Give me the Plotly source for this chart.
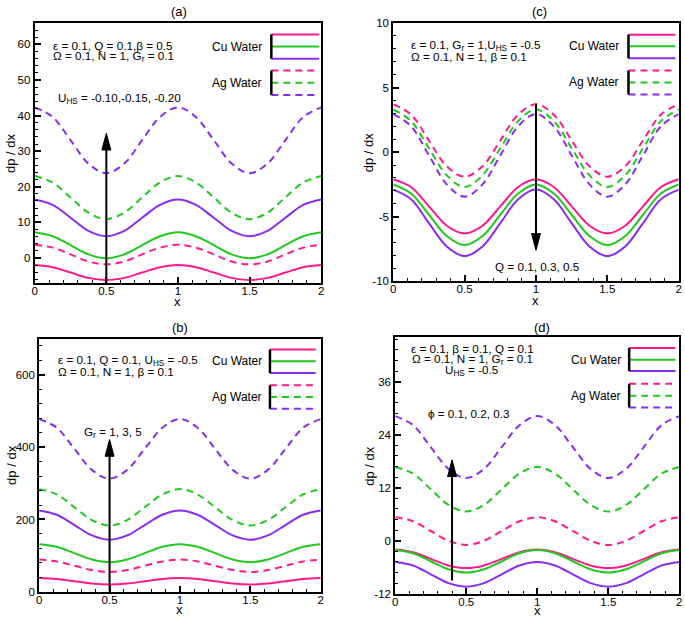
import plotly.graph_objects as go

W, H = 685, 622
FONT = "Liberation Sans, Arial, sans-serif"
PINK, GREEN, PURPLE = "#ff1a8c", "#22c81e", "#8a2cf0"
DASH = "7px,5px"

x_vals = [0, 0.125, 0.25, 0.375, 0.5, 0.625, 0.75, 0.875, 1,
          1.125, 1.25, 1.375, 1.5, 1.625, 1.75, 1.875, 2]

# ---------------- panel (a) ----------------
a_cu_pink   = [-2.0, -2.6, -4.1, -5.6, -6.2, -5.6, -4.1, -2.6, -2.0, -2.6, -4.1, -5.6, -6.2, -5.6, -4.1, -2.6, -2.0]
a_cu_green  = [7.2, 6.1, 3.6, 1.0, -0.1, 1.0, 3.6, 6.1, 7.2, 6.1, 3.6, 1.0, -0.1, 1.0, 3.6, 6.1, 7.2]
a_cu_purple = [16.4, 14.9, 11.3, 7.6, 6.1, 7.6, 11.3, 14.9, 16.4, 14.9, 11.3, 7.6, 6.1, 7.6, 11.3, 14.9, 16.4]
a_ag_pink   = [3.7, 2.9, 1.0, -1.0, -1.8, -1.0, 1.0, 2.9, 3.7, 2.9, 1.0, -1.0, -1.8, -1.0, 1.0, 2.9, 3.7]
a_ag_green  = [23.0, 21.2, 17.0, 12.7, 10.9, 12.7, 17.0, 21.2, 23.0, 21.2, 17.0, 12.7, 10.9, 12.7, 17.0, 21.2, 23.0]
a_ag_purple = [42.3, 39.6, 33.1, 26.5, 23.8, 26.5, 33.1, 39.6, 42.3, 39.6, 33.1, 26.5, 23.8, 26.5, 33.1, 39.6, 42.3]

# ---------------- panel (b) ----------------
b_cu_pink   = [38, 35.4, 29, 22.6, 20, 22.6, 29, 35.4, 38, 35.4, 29, 22.6, 20, 22.6, 29, 35.4, 38]
b_cu_green  = [131.5, 124.3, 106.8, 89.3, 82, 89.3, 106.8, 124.3, 131.5, 124.3, 106.8, 89.3, 82, 89.3, 106.8, 124.3, 131.5]
b_cu_purple = [225, 213.1, 184.5, 155.9, 144, 155.9, 184.5, 213.1, 225, 213.1, 184.5, 155.9, 144, 155.9, 184.5, 213.1, 225]
b_ag_pink   = [89, 84, 72, 60, 55, 60, 72, 84, 89, 84, 72, 60, 55, 60, 72, 84, 89]
b_ag_green  = [284, 269.3, 233.8, 198.3, 183.5, 198.3, 233.8, 269.3, 284, 269.3, 233.8, 198.3, 183.5, 198.3, 233.8, 269.3, 284]
b_ag_purple = [478, 453.8, 395.5, 337.2, 313, 337.2, 395.5, 453.8, 478, 453.8, 395.5, 337.2, 313, 337.2, 395.5, 453.8, 478]

# ---------------- panel (c) ----------------
c_cu_pink   = [-2.1, -2.7, -4.2, -5.7, -6.3, -5.7, -4.2, -2.7, -2.1, -2.7, -4.2, -5.7, -6.3, -5.7, -4.2, -2.7, -2.1]
c_cu_green  = [-2.5, -3.2, -4.85, -6.5, -7.2, -6.5, -4.85, -3.2, -2.5, -3.2, -4.85, -6.5, -7.2, -6.5, -4.85, -3.2, -2.5]
c_cu_purple = [-2.9, -3.65, -5.5, -7.3, -8.05, -7.3, -5.5, -3.65, -2.9, -3.65, -5.5, -7.3, -8.05, -7.3, -5.5, -3.65, -2.9]
c_ag_pink   = [3.7, 2.9, 0.9, -1.1, -1.9, -1.1, 0.9, 2.9, 3.7, 2.9, 0.9, -1.1, -1.9, -1.1, 0.9, 2.9, 3.7]
c_ag_green  = [3.3, 2.4, 0.3, -1.8, -2.7, -1.8, 0.3, 2.4, 3.3, 2.4, 0.3, -1.8, -2.7, -1.8, 0.3, 2.4, 3.3]
c_ag_purple = [2.95, 2.0, -0.25, -2.5, -3.45, -2.5, -0.25, 2.0, 2.95, 2.0, -0.25, -2.5, -3.45, -2.5, -0.25, 2.0, 2.95]

# ---------------- panel (d) ----------------
d_cu_pink   = [-2.0, -2.6, -4.1, -5.6, -6.2, -5.6, -4.1, -2.6, -2.0, -2.6, -4.1, -5.6, -6.2, -5.6, -4.1, -2.6, -2.0]
d_cu_green  = [-2.1, -2.85, -4.65, -6.45, -7.2, -6.45, -4.65, -2.85, -2.1, -2.85, -4.65, -6.45, -7.2, -6.45, -4.65, -2.85, -2.1]
d_cu_purple = [-4.8, -5.6, -7.6, -9.6, -10.4, -9.6, -7.6, -5.6, -4.8, -5.6, -7.6, -9.6, -10.4, -9.6, -7.6, -5.6, -4.8]
d_ag_pink   = [5.3, 4.4, 2.2, 0.0, -0.95, 0.0, 2.2, 4.4, 5.3, 4.4, 2.2, 0.0, -0.95, 0.0, 2.2, 4.4, 5.3]
d_ag_green  = [16.7, 15.2, 11.65, 8.1, 6.6, 8.1, 11.65, 15.2, 16.7, 15.2, 11.65, 8.1, 6.6, 8.1, 11.65, 15.2, 16.7]
d_ag_purple = [28.2, 26.15, 21.2, 16.25, 14.2, 16.25, 21.2, 26.15, 28.2, 26.15, 21.2, 16.25, 14.2, 16.25, 21.2, 26.15, 28.2]

# tick labels
x_ticks = [0, 0.5, 1, 1.5, 2]
x_ticklabels = ["0", "0.5", "1", "1.5", "2"]
a_yticks = [0, 10, 20, 30, 40, 50, 60]
b_yticks = [0, 200, 400, 600]
c_yticks = [-10, -5, 0, 5, 10]
d_yticks = [-12, 0, 12, 24, 36]


def px(x):
    return x / W


def py(y):
    return 1 - y / H


panels = [
    dict(name="a", xa="x", ya="y", box=(32, 321, 17.3, 282.3), yr=[-7, 66],
         yt=a_yticks, ymin=2,
         series=[a_ag_pink, a_ag_green, a_ag_purple, a_cu_pink, a_cu_green, a_cu_purple],
         title=("(a)", 177.7, 6), xlab=(176.5, 301.5), ylab=(7, 150),
         leg=(270.7, 319, [29, 41.3, 53.7], [65.7, 78.3, 90.7], 263.5),
         params=[("ε = 0.1, Q = 0.1,β = 0.5", 48, 40, "left"),
                 ("Ω = 0.1, N = 1, G<sub>r</sub> = 0.1", 48, 51.5, "left")],
         arrow=(0.5, -7, 35.0),
         alab=("U<sub>HS</sub> = -0.10,-0.15, -0.20", 53.3, 94.3, "left")),
    dict(name="c", xa="x2", ya="y2", box=(393.7, 681.7, 17.3, 280.7), yr=[-10, 10],
         yt=c_yticks, ymin=1,
         series=[c_ag_pink, c_ag_green, c_ag_purple, c_cu_pink, c_cu_green, c_cu_purple],
         title=("(c)", 541.7, 6), xlab=(537.5, 300), ylab=(368.3, 149),
         leg=(631, 678.3, [29.2, 41, 53.3], [65.7, 78, 90.2], 623.5),
         params=[("ε = 0.1, G<sub>r</sub> = 1,U<sub>HS</sub> = -0.5", 410, 40, "left"),
                 ("Ω = 0.1, N = 1, β = 0.1", 410, 51.5, "left")],
         arrow=(1.0, 3.75, -7.6),
         alab=("Q = 0.1, 0.3, 0.5", 539.3, 266, "center")),
    dict(name="b", xa="x3", ya="y3", box=(36.5, 320.5, 339.3, 597.3), yr=[0, 700],
         yt=b_yticks, ymin=40,
         series=[b_ag_pink, b_ag_green, b_ag_purple, b_cu_pink, b_cu_green, b_cu_purple],
         title=("(b)", 178.3, 328.3), xlab=(178, 615), ylab=(9, 468),
         leg=(269.3, 315.5, [350.3, 362.3, 374.3], [386.7, 398.7, 410.7], 263.5),
         params=[("ε = 0.1, Q = 0.1, U<sub>HS</sub> = -0.5", 53, 361.7, "left"),
                 ("Ω = 0.1, N = 1, β = 0.1", 53, 373, "left")],
         arrow=(0.5, 0, 421),
         alab=("G<sub>r</sub> = 1, 3, 5", 80, 435, "left")),
    dict(name="d", xa="x4", ya="y4", box=(395.7, 682.3, 338, 599.3), yr=[-12, 46],
         yt=d_yticks, ymin=2.4,
         series=[d_ag_pink, d_ag_green, d_ag_purple, d_cu_pink, d_cu_green, d_cu_purple],
         title=("(d)", 544, 328.3), xlab=(539.3, 616.7), ylab=(370, 469),
         leg=(631.7, 678.3, [348.7, 360.7, 372.3], [385.3, 397.3, 409.3], 625),
         params=[("ε = 0.1, β = 0.1, Q = 0.1", 473.3, 349.5, "center"),
                 ("Ω = 0.1, N = 1, G<sub>r</sub> = 0.1", 473.3, 360.5, "center"),
                 ("U<sub>HS</sub> = -0.5", 473.3, 372, "center")],
         arrow=(0.4, -9, 18.3),
         alab=("ϕ = 0.1, 0.2, 0.3", 426.7, 415.3, "left")),
]

fig = go.Figure()
shapes = []
annotations = []
layout_axes = {}

styles = [(PINK, DASH), (GREEN, DASH), (PURPLE, DASH),
          (PINK, "solid"), (GREEN, "solid"), (PURPLE, "solid")]


def txt(text, x, y, xanchor="center", size=12, **kw):
    annotations.append(dict(text=text, x=px(x), y=py(y), xref="paper", yref="paper",
                            xanchor=xanchor, yanchor="middle", showarrow=False,
                            font=dict(family=FONT, size=size, color="black"), **kw))


for p in panels:
    x0, x1, y0, y1 = p["box"]
    for s, (col, dash) in zip(p["series"], styles):
        fig.add_trace(go.Scatter(x=x_vals, y=s, mode="lines", xaxis=p["xa"], yaxis=p["ya"],
                                 line=dict(color=col, width=2, dash=dash, shape="spline"),
                                 showlegend=False, hoverinfo="skip"))
    xkey = "xaxis" + p["xa"][1:]
    ykey = "yaxis" + p["ya"][1:]
    ymin_vals = []
    v = p["yr"][0] - (p["yr"][0] % p["ymin"])
    while v <= p["yr"][1] + 1e-9:
        if v >= p["yr"][0] - 1e-9:
            ymin_vals.append(round(v, 6))
        v += p["ymin"]
    common = dict(showline=True, linecolor="black", linewidth=2, mirror=True,
                  showgrid=False, zeroline=False, ticks="inside", ticklen=6,
                  tickwidth=1.5, tickcolor="black", fixedrange=True,
                  tickfont=dict(family=FONT, size=11.5, color="black"))
    layout_axes[xkey] = dict(common, domain=[px(x0), px(x1)], range=[0, 2],
                             anchor=p["ya"], tickmode="array", tickvals=x_ticks,
                             ticktext=x_ticklabels, ticklabelstandoff=-4,
                             minor=dict(tickmode="array",
                                        tickvals=[i / 10 for i in range(21)],
                                        ticks="inside", ticklen=3, tickcolor="black",
                                        tickwidth=1))
    layout_axes[ykey] = dict(common, domain=[py(y1), py(y0)], range=p["yr"],
                             anchor=p["xa"], tickmode="array", tickvals=p["yt"],
                             ticktext=[f"{t:g}" for t in p["yt"]],
                             minor=dict(tickmode="array", tickvals=ymin_vals,
                                        ticks="inside", ticklen=3, tickcolor="black",
                                        tickwidth=1))

    # titles and axis labels
    t, tx, ty = p["title"]
    txt(t, tx, ty, size=13)
    txt("x", p["xlab"][0], p["xlab"][1], size=13)
    txt("dp / dx", p["ylab"][0], p["ylab"][1], size=13, textangle=-90)

    # legend block
    lx0, lx1, ys_solid, ys_dash, tr = p["leg"]
    for yy, col in zip(ys_solid, [PINK, GREEN, PURPLE]):
        shapes.append(dict(type="line", xref="paper", yref="paper", x0=px(lx0), x1=px(lx1),
                           y0=py(yy), y1=py(yy), line=dict(color=col, width=2)))
    for yy, col in zip(ys_dash, [PINK, GREEN, PURPLE]):
        shapes.append(dict(type="line", xref="paper", yref="paper", x0=px(lx0), x1=px(lx1),
                           y0=py(yy), y1=py(yy), line=dict(color=col, width=2, dash=DASH)))
    for ys in (ys_solid, ys_dash):
        shapes.append(dict(type="line", xref="paper", yref="paper", x0=px(lx0), x1=px(lx0),
                           y0=py(ys[0]), y1=py(ys[-1]), line=dict(color="black", width=2.5)))
    txt("Cu Water", tr, ys_solid[1], xanchor="right", size=12)
    txt("Ag Water", tr, ys_dash[1], xanchor="right", size=12)

    # parameter text
    for text, tx_, ty_, anc in p["params"]:
        txt(text, tx_, ty_, xanchor=anc, size=11.7)

    # arrow
    ax_, ytail, ytip = p["arrow"]
    wpx = x1 - x0
    hpx = y1 - y0
    ux = wpx / 2.0
    uy = hpx / (p["yr"][1] - p["yr"][0])
    head_len = 17 / uy
    head_hw = 4.5 / ux
    sgn = 1 if ytip > ytail else -1
    ybase = ytip - sgn * head_len
    shapes.append(dict(type="line", xref=p["xa"], yref=p["ya"], x0=ax_, x1=ax_,
                       y0=ytail, y1=ybase, line=dict(color="black", width=2)))
    shapes.append(dict(type="path", xref=p["xa"], yref=p["ya"],
                       path=f"M {ax_ - head_hw} {ybase} L {ax_ + head_hw} {ybase} L {ax_} {ytip} Z",
                       fillcolor="black", line=dict(color="black", width=1)))
    lt, lx_, ly_, lanc = p["alab"]
    txt(lt, lx_, ly_, xanchor=lanc, size=11.7)

fig.update_layout(width=W, height=H, margin=dict(l=0, r=0, t=0, b=0),
                  paper_bgcolor="white", plot_bgcolor="white", hovermode=False,
                  shapes=shapes, annotations=annotations, showlegend=False,
                  **layout_axes)

fig.write_html("out.html", config={"displayModeBar": False},
               post_script="document.body.style.margin='0px';document.body.style.overflow='hidden';")
